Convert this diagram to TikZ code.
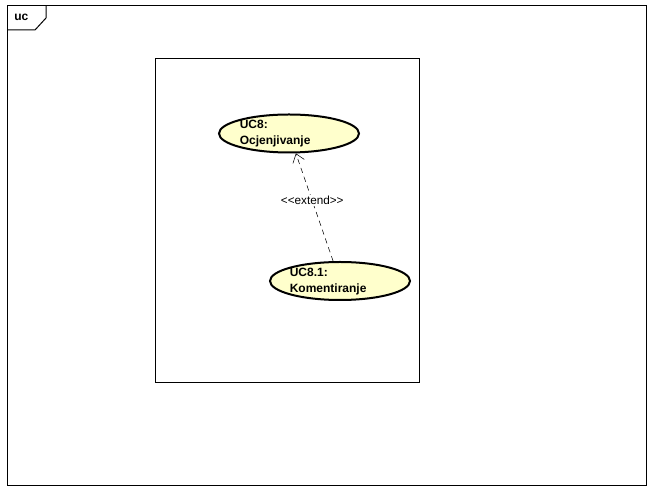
\documentclass[tikz,border=0pt]{standalone}
\usepackage{fontspec}
\setmainfont{Liberation Sans}
\usetikzlibrary{arrows.meta,shapes.geometric}
\definecolor{ucfill}{RGB}{255,255,204}
\begin{document}
\begin{tikzpicture}[x=0.75pt,y=-0.75pt,
    usecase/.style={ellipse,draw,line width=1.5pt,fill=ucfill,inner sep=0pt,
      minimum width=105pt,minimum height=28.5pt},
    uctext/.style={anchor=west,align=left,font=\fontsize{9}{12}\selectfont\bfseries,inner sep=0pt}]
    \useasboundingbox (0,0) rectangle (657,498);
    % frame
    \draw[line width=0.75pt] (7,6) rectangle (646,486);
    \draw[line width=0.75pt] (7,30) -- (35,30) -- (46,18) -- (46,6);
    \node[anchor=west,font=\fontsize{9}{11}\selectfont\bfseries,inner sep=0pt] (frame) at (14,17) {uc};
    % system boundary
    \draw[line width=0.75pt] (155,59) rectangle (419,383);
    % use cases
    \node[usecase] (uc8) at (289,133.5) {};
    \node[uctext] (uc8txt) at (239.5,134) {UC8:\\Ocjenjivanje};
    \node[usecase] (uc81) at (340,281) {};
    \node[uctext] (uc81txt) at (289.5,281.5) {UC8.1:\\Komentiranje};
    % extend
    \draw[dashed,dash pattern=on 4pt off 3pt,-{Straight Barb[length=6pt,width=9pt]}] (uc81) -- (uc8)
      node[pos=0.56,fill=white,inner sep=1pt,font=\fontsize{8.8}{10}\selectfont] (ext) {<{}<extend>{}>};
  \end{tikzpicture}
\end{document}
